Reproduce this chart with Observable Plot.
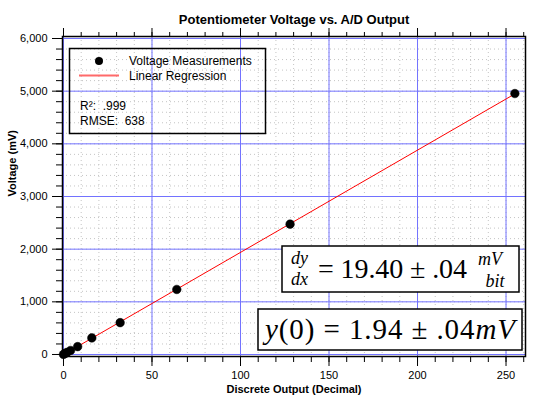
<!DOCTYPE html>
<html>
<head>
<meta charset="utf-8">
<script src="https://cdn.jsdelivr.net/npm/d3@7"></script>
<script src="https://cdn.jsdelivr.net/npm/@observablehq/plot@0.6"></script>
<style>
  html, body { margin: 0; padding: 0; background: white; }
</style>
</head>
<body>
<div id="chart"></div>
<script>
// ---- data ----
const outputs  = [0, 1, 2, 4, 8, 16, 32, 64, 128, 255];
const voltages = [2, 21, 40, 77, 150, 315, 605, 1235, 2475, 4955];
const xMajorTicks = [0, 50, 100, 150, 200, 250];
const yMajorTicks = [0, 1000, 2000, 3000, 4000, 5000, 6000];
const xMinorTicks = d3.range(0, 261, 10);
const yMinorTicks = d3.range(0, 6001, 200);
const titleText = "Potentiometer Voltage vs. A/D Output";
const xLabel = "Discrete Output (Decimal)";
const yLabel = "Voltage (mV)";
const legendItems = ["Voltage Measurements", "Linear Regression"];
const statLines = ["R²:  .999", "RMSE:  638"];

const data = outputs.map((x, i) => ({x, y: voltages[i]}));
const BLUE = "#7272ff";

const plot = Plot.plot({
  width: 537,
  height: 409,
  marginLeft: 62,
  marginRight: 12,
  marginTop: 36,
  marginBottom: 53,
  style: {fontFamily: "Liberation Sans, Arial, sans-serif", fontSize: "11px", background: "white", color: "black"},
  x: {domain: [-0.56, 261]},
  y: {domain: [-38, 6038]},
  marks: [
    Plot.gridX(xMinorTicks, {stroke: "#c4c4c4", strokeOpacity: 1, strokeDasharray: "1,3"}),
    Plot.gridY(yMinorTicks, {stroke: "#c4c4c4", strokeOpacity: 1, strokeDasharray: "1,3"}),
    Plot.gridX(xMajorTicks, {stroke: BLUE, strokeOpacity: 1}),
    Plot.gridY(yMajorTicks, {stroke: BLUE, strokeOpacity: 1}),
    Plot.axisX(xMinorTicks, {tickSize: 6, tickFormat: () => "", label: null}),
    Plot.axisX(xMajorTicks, {tickSize: 10, tickPadding: 5, tickFormat: d => d, label: null, fontSize: 11}),
    Plot.axisX(xMinorTicks, {anchor: "top", tickSize: 5, tickFormat: () => "", label: null}),
    Plot.axisX(xMajorTicks, {anchor: "top", tickSize: 9, tickFormat: () => "", label: null}),
    Plot.axisY(yMinorTicks, {tickSize: 6, tickFormat: () => "", label: null}),
    Plot.axisY(yMajorTicks, {tickSize: 10, tickPadding: 5, tickFormat: d3.format(","), label: null, fontSize: 11}),
    Plot.frame({stroke: "black", strokeWidth: 1.5}),
    Plot.linearRegressionY(data, {x: "x", y: "y", stroke: "#ff0000", strokeWidth: 1, ci: 0}),
    Plot.dot(data, {x: "x", y: "y", r: 4.3, fill: "black", stroke: "black", strokeWidth: 0.5}),
    Plot.text([titleText], {text: d => d, frameAnchor: "top", dy: -22, fontWeight: "bold", fontSize: 13}),
    Plot.text([xLabel], {text: d => d, frameAnchor: "bottom", dy: 36, fontWeight: "bold", fontSize: 11}),
    Plot.text([yLabel], {text: d => d, frameAnchor: "left", dx: -50, rotate: -90, fontWeight: "bold", fontSize: 11})
  ]
});

document.getElementById("chart").appendChild(plot);

// ---- annotations: legend box and equation boxes ----
const svg = d3.select(plot);
const ann = svg.append("g").attr("text-anchor", "start");

// legend
ann.append("rect").attr("x", 69.5).attr("y", 48.5).attr("width", 196).attr("height", 85)
  .attr("fill", "none").attr("stroke", "black").attr("stroke-width", 1.5);
ann.append("circle").attr("cx", 99).attr("cy", 61).attr("r", 4).attr("fill", "black");
ann.append("line").attr("x1", 79).attr("x2", 119).attr("y1", 75.5).attr("y2", 75.5)
  .attr("stroke", "#ff6a6a").attr("stroke-width", 2);
legendItems.forEach((t, i) => {
  ann.append("text").attr("x", 129).attr("y", 61 + i * 14.5).attr("dy", "0.35em")
    .attr("text-anchor", "start")
    .attr("font-family", "Liberation Sans, Arial, sans-serif").attr("font-size", 12).text(t);
});
statLines.forEach((t, i) => {
  ann.append("text").attr("x", 80).attr("y", 106 + i * 15).attr("dy", "0.35em")
    .attr("text-anchor", "start")
    .attr("font-family", "Liberation Sans, Arial, sans-serif").attr("font-size", 12)
    .style("white-space", "pre").text(t);
});

const serif = "Liberation Serif, 'Times New Roman', serif";

// box 1: dy/dx = 19.40 ± .04 mV/bit
ann.append("rect").attr("x", 282).attr("y", 246).attr("width", 237).attr("height", 46)
  .attr("fill", "white").attr("stroke", "black").attr("stroke-width", 1.5);
ann.append("text").attr("x", 299.5).attr("y", 264).attr("text-anchor", "middle")
  .attr("font-family", serif).attr("font-style", "italic").attr("font-size", 18).text("dy");
ann.append("text").attr("x", 299.5).attr("y", 285).attr("text-anchor", "middle")
  .attr("font-family", serif).attr("font-style", "italic").attr("font-size", 18).text("dx");
ann.append("text").attr("x", 318).attr("y", 278).attr("text-anchor", "start")
  .attr("font-family", serif).attr("font-size", 28)
  .attr("textLength", 149).attr("lengthAdjust", "spacing")
  .style("white-space", "pre").text("= 19.40 ± .04");
ann.append("text").attr("x", 490).attr("y", 265).attr("text-anchor", "middle")
  .attr("font-family", serif).attr("font-style", "italic").attr("font-size", 18).text("mV");
ann.append("text").attr("x", 495).attr("y", 287).attr("text-anchor", "middle")
  .attr("font-family", serif).attr("font-style", "italic").attr("font-size", 18).text("bit");

// box 2: y(0) = 1.94 ± .04 mV
ann.append("rect").attr("x", 258).attr("y", 309).attr("width", 264).attr("height", 41)
  .attr("fill", "white").attr("stroke", "black").attr("stroke-width", 1.5);
const t2 = ann.append("text").attr("x", 265).attr("y", 339).attr("text-anchor", "start")
  .attr("font-family", serif).attr("font-size", 29)
  .attr("textLength", 250).attr("lengthAdjust", "spacing")
  .style("white-space", "pre");
t2.append("tspan").attr("font-style", "italic").text("y");
t2.append("tspan").text("(0) = 1.94 ± .04");
t2.append("tspan").attr("font-style", "italic").text("mV");
</script>
</body>
</html>
